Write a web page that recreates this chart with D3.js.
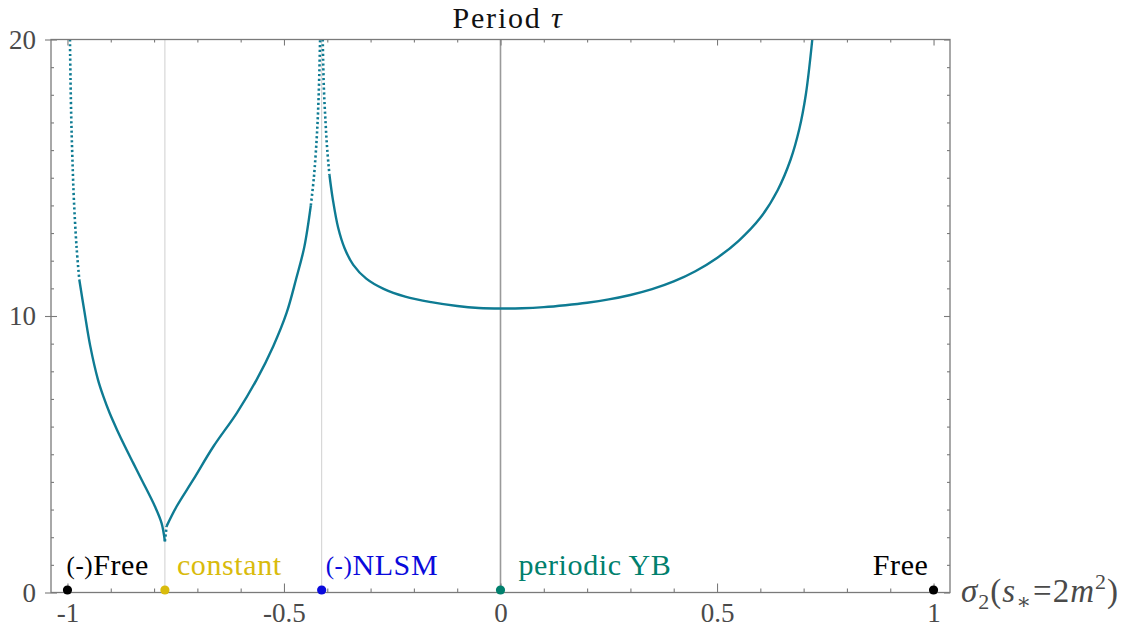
<!DOCTYPE html>
<html>
<head>
<meta charset="utf-8">
<script src="https://cdn.jsdelivr.net/npm/d3@7"></script>
<style>
  body { margin: 0; background: #fff; }
  svg { display: block; font-family: "Liberation Serif", "DejaVu Serif", serif; }
</style>
</head>
<body>
<svg id="chart" width="1145" height="630"></svg>
<script>
// Period tau as a function of sigma_2, three branches separated by the singular points
const branchA_sigma = [-0.9942, -0.993, -0.991, -0.9903, -0.988, -0.985, -0.979, -0.9727, -0.9604, -0.9473, -0.9296, -0.9173, -0.9026, -0.8857, -0.8672, -0.848, -0.8287, -0.7979, -0.7825, -0.775];
const branchA_tau   = [20, 18.6, 17.0, 16.6, 15.4, 14.16, 12.5, 11.32, 10.12, 8.91, 7.70, 7.1, 6.49, 5.89, 5.28, 4.68, 4.08, 3.11, 2.5, 1.85];

const branchB_sigma = [-0.775, -0.771, -0.748, -0.7095, -0.663, -0.609, -0.563, -0.5247, -0.4938, -0.4723, -0.453, -0.438, -0.431, -0.4245, -0.421, -0.4185, -0.4166];
const branchB_tau   = [1.85, 2.4, 3.11, 4.08, 5.28, 6.49, 7.70, 8.91, 10.12, 11.32, 12.5, 14.0, 15.0, 16.4, 17.5, 18.7, 20];

const branchC_sigma = [-0.4105, -0.408, -0.404, -0.4, -0.395, -0.387, -0.375, -0.36, -0.34, -0.31, -0.27, -0.22, -0.16, -0.1, -0.05, 0, 0.05, 0.1, 0.15, 0.2, 0.25, 0.3, 0.35, 0.4, 0.45, 0.5, 0.55, 0.6, 0.64, 0.67, 0.69, 0.705, 0.72];
const branchC_tau   = [20, 18.3, 17.0, 16.0, 15.1, 14.2, 13.2, 12.45, 11.85, 11.35, 10.98, 10.7, 10.5, 10.36, 10.29, 10.27, 10.28, 10.32, 10.39, 10.48, 10.6, 10.76, 10.97, 11.25, 11.62, 12.1, 12.72, 13.55, 14.55, 15.66, 16.76, 18.0, 20];

// Special points on the sigma_2 axis
const pointNames  = ["(-)Free", "constant", "(-)NLSM", "periodic YB", "Free"];
const pointSigma  = [-1, -0.775, -0.413, 0, 1];
const pointTau    = [0, 0, 0, 0, 0];
const pointColors = ["#000000", "#d9bb0c", "#0a0adc", "#00806d", "#000000"];

// Reference verticals
const guideSigma  = [-0.775, -0.413, 0];
const guideColors = ["#d4d4d4", "#d4d4d4", "#9a9a9a"];

// Axis ticks
const xMajorTicks  = [-1, -0.5, 0, 0.5, 1];
const xMajorLabels = ["-1", "-0.5", "0", "0.5", "1"];
const yMajorTicks  = [0, 10, 20];
const yMajorLabels = ["0", "10", "20"];

const svg = d3.select("#chart");
const plot = { left: 51, right: 950, top: 39.5, bottom: 592.5 };

const x = d3.scaleLinear().domain([-1.038, 1.038]).range([plot.left, plot.right]);
const y = d3.scaleLinear().domain([0, 20]).range([plot.bottom, plot.top]);

const frameColor = "#7a7a7a";
const textGray = "#4a4a4a";

// Guide lines
svg.append("g").selectAll("line").data(guideSigma).join("line")
  .attr("x1", d => x(d)).attr("x2", d => x(d))
  .attr("y1", plot.bottom).attr("y2", plot.top)
  .attr("stroke", (d, i) => guideColors[i])
  .attr("stroke-width", (d, i) => i === 2 ? 1.6 : 1.1);

// Curve branches: solid, switching to dotted next to the divergences at negative sigma_2
const curveColor = "#0e7b93";
const line = d3.line().x(d => x(d[0])).y(d => y(d[1])).curve(d3.curveCatmullRom.alpha(0.5));
svg.append("clipPath").attr("id", "plotclip").append("rect")
  .attr("x", plot.left).attr("y", plot.top - 1)
  .attr("width", plot.right - plot.left).attr("height", plot.bottom - plot.top + 1);
const curveG = svg.append("g").attr("clip-path", "url(#plotclip)");

function drawBranch(sig, tau) {
  const pts = sig.map((s, i) => [s, tau[i]]);
  const groups = [];
  for (let i = 0; i < pts.length - 1; i++) {
    const slope = Math.abs((pts[i + 1][1] - pts[i][1]) / (pts[i + 1][0] - pts[i][0]));
    const steep = slope > 130 && pts[i][0] < 0;
    const last = groups[groups.length - 1];
    if (last && last.steep === steep) last.pts.push(pts[i + 1]);
    else groups.push({ steep, pts: [pts[i], pts[i + 1]] });
  }
  groups.forEach(g => {
    curveG.append("path")
      .attr("d", line(g.pts))
      .attr("fill", "none")
      .attr("stroke", curveColor)
      .attr("stroke-width", g.steep ? 2.6 : 2.4)
      .attr("stroke-dasharray", g.steep ? "2.2,2.6" : null)
      .attr("stroke-linecap", "butt")
      .attr("stroke-linejoin", "round");
  });
}
drawBranch(branchA_sigma, branchA_tau);
drawBranch(branchB_sigma, branchB_tau);
drawBranch(branchC_sigma, branchC_tau);

// Frame
svg.append("rect")
  .attr("x", plot.left).attr("y", plot.top)
  .attr("width", plot.right - plot.left).attr("height", plot.bottom - plot.top)
  .attr("fill", "none").attr("stroke", frameColor).attr("stroke-width", 1.3);

function styleAxis(g) {
  g.select(".domain").remove();
  g.selectAll(".tick line").attr("stroke", frameColor).attr("stroke-width", 1.1);
  g.selectAll(".tick text").attr("fill", textGray).attr("font-size", 27)
    .attr("font-family", "Liberation Serif, serif");
}

const xMinor = d3.range(-10, 11).map(d => d / 10).filter(d => !xMajorTicks.some(m => Math.abs(m - d) < 1e-9));
const yMinor = d3.range(0, 21).filter(d => !yMajorTicks.includes(d));

// Bottom axis: inward ticks with labels
svg.append("g").attr("transform", `translate(0,${plot.bottom})`)
  .call(d3.axisBottom(x).tickValues(xMajorTicks).tickSize(-9).tickPadding(10)
    .tickFormat((d, i) => xMajorLabels[i]))
  .call(styleAxis);
svg.append("g").attr("transform", `translate(0,${plot.bottom})`)
  .call(d3.axisBottom(x).tickValues(xMinor).tickSize(-4).tickFormat(""))
  .call(styleAxis);

// Top axis: inward ticks only
svg.append("g").attr("transform", `translate(0,${plot.top})`)
  .call(d3.axisTop(x).tickValues(xMajorTicks).tickSize(-6).tickFormat(""))
  .call(styleAxis);
svg.append("g").attr("transform", `translate(0,${plot.top})`)
  .call(d3.axisTop(x).tickValues(xMinor).tickSize(-3).tickFormat(""))
  .call(styleAxis);

// Left axis: major ticks cross the frame, labels outside
svg.append("g").attr("transform", `translate(${plot.left},0)`)
  .call(d3.axisLeft(y).tickValues(yMajorTicks).tickSize(6).tickPadding(9)
    .tickFormat((d, i) => yMajorLabels[i]))
  .call(styleAxis);
svg.append("g").attr("transform", `translate(${plot.left},0)`)
  .call(d3.axisLeft(y).tickValues(yMajorTicks).tickSize(-6).tickFormat(""))
  .call(styleAxis);
svg.append("g").attr("transform", `translate(${plot.left},0)`)
  .call(d3.axisLeft(y).tickValues(yMinor).tickSize(-3).tickFormat(""))
  .call(styleAxis);

// Right axis: inward ticks only
svg.append("g").attr("transform", `translate(${plot.right},0)`)
  .call(d3.axisRight(y).tickValues(yMajorTicks).tickSize(-6).tickFormat(""))
  .call(styleAxis);
svg.append("g").attr("transform", `translate(${plot.right},0)`)
  .call(d3.axisRight(y).tickValues(yMinor).tickSize(-3).tickFormat(""))
  .call(styleAxis);

// Special points
svg.append("g").selectAll("circle").data(pointSigma).join("circle")
  .attr("cx", d => x(d)).attr("cy", (d, i) => y(pointTau[i]) - 2.5)
  .attr("r", 4.6)
  .attr("fill", (d, i) => pointColors[i]);

// Point labels
const labelDx = [-1, 12, 4, 18, -5];
const labelAnchor = ["start", "start", "start", "start", "end"];
const labels = svg.append("g").attr("font-size", 30).attr("letter-spacing", 0.6);
pointNames.forEach((name, i) => {
  const t = labels.append("text")
    .attr("x", x(pointSigma[i]) + labelDx[i])
    .attr("y", y(pointTau[i]) - 18)
    .attr("text-anchor", labelAnchor[i])
    .attr("fill", pointColors[i]);
  if (name.startsWith("(-)")) {
    t.append("tspan").attr("font-size", 25).attr("dy", -1).text("(-)");
    t.append("tspan").attr("dy", 1).text(name.slice(3));
  } else {
    t.text(name);
  }
});

// Title
const title = svg.append("text")
  .attr("x", 508).attr("y", 28)
  .attr("text-anchor", "middle")
  .attr("font-size", 30)
  .attr("letter-spacing", 1.8)
  .attr("fill", "#111");
title.append("tspan").text("Period ");
title.append("tspan").attr("font-style", "italic").text("τ");

// x-axis label: sigma_2(s_* = 2 m^2)
const xl = svg.append("text")
  .attr("x", 961).attr("y", 602)
  .attr("font-size", 33)
  .attr("letter-spacing", 1)
  .attr("fill", textGray);
xl.append("tspan").attr("font-style", "italic").text("σ");
xl.append("tspan").attr("font-size", 22).attr("dy", 7).text("2");
xl.append("tspan").attr("dy", -7).text("(");
xl.append("tspan").attr("font-style", "italic").text("s");
xl.append("tspan").attr("font-size", 22).attr("dy", 7).text("∗");
xl.append("tspan").attr("dy", -7).attr("dx", 1).text("=2");
xl.append("tspan").attr("font-style", "italic").text("m");
xl.append("tspan").attr("font-size", 22).attr("dy", -13).text("2");
xl.append("tspan").attr("dy", 13).text(")");
</script>
</body>
</html>
